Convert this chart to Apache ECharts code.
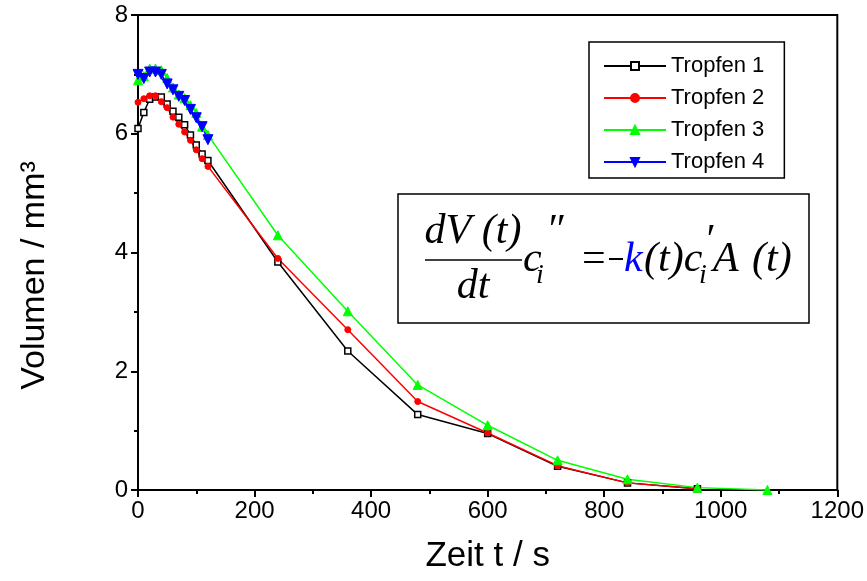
<!DOCTYPE html>
<html>
<head>
<meta charset="utf-8">
<script src="https://cdn.jsdelivr.net/npm/echarts@6/dist/echarts.min.js"></script>
<style>html,body{margin:0;padding:0;background:#fff;}#c{width:867px;height:581px;}</style>
</head>
<body>
<div id="c"></div>
<script>
// ---- data ----
var timesEarly = [0,10,20,30,40,50,60,70,80,90,100,110,120];
var timesLate1 = [240,360,480,600,720,840,960];
var timesLate3 = [240,360,480,600,720,840,960,1080];

var t1Early = [6.09,6.36,6.58,6.62,6.62,6.50,6.38,6.28,6.15,5.98,5.81,5.66,5.55];
var t1Late  = [3.84,2.34,1.27,0.95,0.40,0.12,0.02];
var t2Early = [6.53,6.59,6.64,6.64,6.54,6.44,6.28,6.16,6.03,5.89,5.73,5.58,5.45];
var t2Late  = [3.90,2.70,1.49,0.96,0.41,0.12,0.02];
var t3Early = [6.90,6.97,7.10,7.10,7.07,6.94,6.78,6.66,6.60,6.48,6.35,6.12,5.98];
var t3Late  = [4.29,3.01,1.77,1.09,0.50,0.18,0.04,0.00];
var t4Early = [7.00,6.93,7.04,7.04,7.00,6.84,6.74,6.63,6.56,6.41,6.27,6.12,5.90];

var seriesNames = ['Tropfen 1','Tropfen 2','Tropfen 3','Tropfen 4'];
var xTicks = [0,200,400,600,800,1000,1200];
var yTicks = [0,2,4,6,8];

function pairs(ts, vs){ var o=[]; for(var i=0;i<ts.length;i++) o.push([ts[i], vs[i]]); return o; }

var d1 = pairs(timesEarly.concat(timesLate1), t1Early.concat(t1Late));
var d2 = pairs(timesEarly.concat(timesLate1), t2Early.concat(t2Late));
var d3 = pairs(timesEarly.concat(timesLate3), t3Early.concat(t3Late));
var d4 = pairs(timesEarly, t4Early);

var chart = echarts.init(document.getElementById('c'), null, {renderer:'canvas'});
var SANS = 'Liberation Sans, Arial, sans-serif';
var SERIF = 'Liberation Serif, Times New Roman, serif';

function mkSeries(name, data, color, symbol, size, extra){
  var s = {
    name: name, type: 'line', data: data, symbol: symbol, symbolSize: size,
    showAllSymbol: true, animation: false,
    lineStyle: {color: color, width: 1.5},
    itemStyle: {color: color, borderColor: color, borderWidth: 1},
    emphasis: {disabled: true}, z: 3
  };
  for (var k in extra) s[k] = extra[k];
  return s;
}
function plain(v){ return String(v); }

var F = 42;
var eqY = 260;
var option = {
  backgroundColor: '#fff',
  animation: false,
  grid: {left: 138, right: 29, top: 15, bottom: 91, show: true, borderColor: '#000', borderWidth: 2, backgroundColor: 'transparent'},
  xAxis: {
    type: 'value', min: xTicks[0], max: xTicks[xTicks.length-1], interval: 200,
    name: 'Zeit t / s', nameLocation: 'middle', nameGap: 49,
    nameTextStyle: {fontFamily: SANS, fontSize: 35, color: '#000'},
    axisLine: {show: true, onZero: false, lineStyle: {color: '#000', width: 2}},
    axisTick: {show: true, inside: false, length: 7, lineStyle: {color: '#000', width: 2}},
    minorTick: {show: true, splitNumber: 2, length: 4, lineStyle: {color: '#000', width: 2}},
    splitLine: {show: false},
    axisLabel: {fontFamily: SANS, fontSize: 24, color: '#000', margin: 9, formatter: plain}
  },
  yAxis: {
    type: 'value', min: yTicks[0], max: yTicks[yTicks.length-1], interval: 2,
    name: 'Volumen / mm³', nameLocation: 'middle', nameGap: 86,
    nameTextStyle: {fontFamily: SANS, fontSize: 34, color: '#000', padding: [0, 46, 0, 0]},
    axisLine: {show: true, onZero: false, lineStyle: {color: '#000', width: 2}},
    axisTick: {show: true, inside: false, length: 7, lineStyle: {color: '#000', width: 2}},
    minorTick: {show: true, splitNumber: 2, length: 4, lineStyle: {color: '#000', width: 2}},
    splitLine: {show: false},
    axisLabel: {fontFamily: SANS, fontSize: 24, color: '#000', margin: 10, formatter: plain}
  },
  legend: {
    orient: 'vertical', left: 589, top: 42,
    data: seriesNames,
    itemWidth: 62, itemHeight: 10, itemGap: 10,
    padding: [13, 20, 5, 14],
    borderColor: '#000', borderWidth: 1.5, backgroundColor: '#fff',
    textStyle: {fontFamily: SANS, fontSize: 22, color: '#000'},
    selectedMode: false
  },
  series: [
    mkSeries(seriesNames[0], d1, '#000000', 'rect', 6, {itemStyle: {color: '#fff', borderColor: '#000', borderWidth: 1.5}}),
    mkSeries(seriesNames[1], d2, '#ff0000', 'circle', 6, {}),
    mkSeries(seriesNames[2], d3, '#00ff00', 'triangle', 9, {}),
    mkSeries(seriesNames[3], d4, '#0000ff', 'triangle', 10, {symbolRotate: 180})
  ],
  graphic: [
    {type: 'rect', shape: {x: 398, y: 194, width: 411, height: 129}, style: {fill: '#fff', stroke: '#000', lineWidth: 1.5}, z: 10},
    {type: 'text', x: 473, y: 232, style: {text: 'dV (t)', font: 'italic ' + F + 'px ' + SERIF, fill: '#000', align: 'center', verticalAlign: 'middle'}, z: 11},
    {type: 'line', shape: {x1: 425, y1: 260, x2: 522, y2: 260}, style: {stroke: '#000', lineWidth: 1.5}, z: 11},
    {type: 'text', x: 473, y: 287, style: {text: 'dt', font: 'italic ' + F + 'px ' + SERIF, fill: '#000', align: 'center', verticalAlign: 'middle'}, z: 11},
    {type: 'text', x: 523, y: eqY, style: {text: 'c', font: 'italic ' + F + 'px ' + SERIF, fill: '#000', align: 'left', verticalAlign: 'middle'}, z: 11},
    {type: 'text', x: 536, y: 276, style: {text: 'i', font: 'italic 28px ' + SERIF, fill: '#000', align: 'left', verticalAlign: 'middle'}, z: 11},
    {type: 'text', x: 546, y: 232, style: {text: '″', font: 'italic ' + F + 'px ' + SERIF, fill: '#000', align: 'left', verticalAlign: 'middle'}, z: 11},
    {type: 'text', x: 582, y: eqY, style: {text: '=', font: F + 'px ' + SERIF, fill: '#000', align: 'left', verticalAlign: 'middle'}, z: 11},
    {type: 'line', shape: {x1: 609, y1: 259, x2: 623, y2: 259}, style: {stroke: '#000', lineWidth: 2}, z: 11},
    {type: 'text', x: 624, y: eqY, style: {text: 'k', font: 'italic ' + F + 'px ' + SERIF, fill: '#0000ff', align: 'left', verticalAlign: 'middle'}, z: 11},
    {type: 'text', x: 644, y: eqY, style: {text: '(t)c', font: 'italic ' + F + 'px ' + SERIF, fill: '#000', align: 'left', verticalAlign: 'middle'}, z: 11},
    {type: 'text', x: 699, y: 276, style: {text: 'i', font: 'italic 28px ' + SERIF, fill: '#000', align: 'left', verticalAlign: 'middle'}, z: 11},
    {type: 'text', x: 704, y: 242, style: {text: '′', font: 'italic ' + F + 'px ' + SERIF, fill: '#000', align: 'left', verticalAlign: 'middle'}, z: 11},
    {type: 'text', x: 713, y: eqY, style: {text: 'A', font: 'italic ' + F + 'px ' + SERIF, fill: '#000', align: 'left', verticalAlign: 'middle'}, z: 11},
    {type: 'text', x: 752, y: eqY, style: {text: '(t)', font: 'italic ' + F + 'px ' + SERIF, fill: '#000', align: 'left', verticalAlign: 'middle'}, z: 11}
  ]
};
chart.setOption(option);
</script>
</body>
</html>
